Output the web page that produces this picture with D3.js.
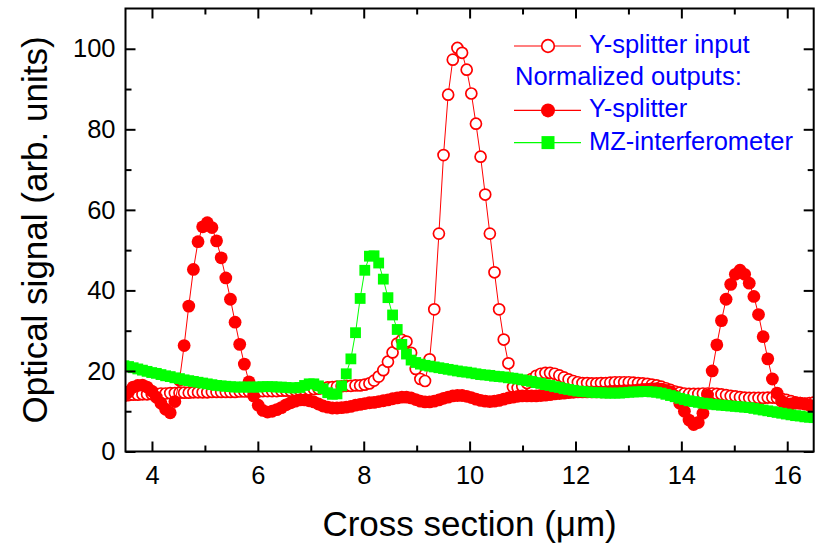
<!DOCTYPE html>
<html>
<head>
<meta charset="utf-8">
<script src="https://cdn.jsdelivr.net/npm/d3@7"></script>
<style>
body { margin: 0; background: #fff; }
text { font-family: "Liberation Sans", Arial, sans-serif; }
</style>
</head>
<body>
<div id="chart"></div>
<script>
// sampling grid of the cross section (um)
const xStart = 3.47;
const xStep = 0.0875;

// Y-splitter input (open circles)
const inputSignal = [
  14.0, 14.0, 14.1, 14.1, 14.2, 14.2, 14.3, 14.3, 14.4, 14.4,
  14.5, 14.5, 14.6, 14.6, 14.6, 14.7, 14.7, 14.7, 14.7, 14.8,
  14.8, 14.8, 14.8, 14.8, 14.8, 14.9, 14.9, 14.9, 14.9, 14.9,
  15.0, 15.0, 15.0, 15.0, 15.1, 15.1, 15.1, 15.2, 15.2, 15.3,
  15.4, 15.5, 15.6, 15.7, 15.9, 16.0, 16.1, 16.2, 16.3, 16.3,
  16.4, 16.4, 16.6, 16.9, 17.6, 18.6, 20.2, 22.3, 24.6, 26.8,
  27.7, 27.3, 24.5, 20.5, 18.0, 17.5, 22.9, 35.3, 54.1, 73.6,
  88.6, 97.3, 100.2, 99.0, 94.8, 88.9, 81.4, 73.2, 63.8, 54.1,
  44.5, 35.3, 27.8, 21.9, 16.0, 15.8, 16.2, 17.0, 18.0, 18.8,
  19.3, 19.5, 19.5, 19.3, 18.9, 18.4, 17.9, 17.5, 17.2, 17.0,
  17.0, 16.9, 16.9, 17.0, 17.0, 17.1, 17.2, 17.2, 17.2, 17.2,
  17.1, 17.0, 16.9, 16.8, 16.6, 16.4, 16.1, 15.7, 15.3, 14.9,
  14.6, 14.4, 14.3, 14.3, 14.3, 14.4, 14.4, 14.4, 14.3, 14.2,
  14.0, 13.8, 13.7, 13.5, 13.4, 13.3, 13.3, 13.3, 13.3, 13.4,
  13.4, 13.3, 13.1, 12.8, 12.5, 12.2, 12.0, 11.9, 12.0, 12.2
];

// normalized output of the Y-splitter (filled circles)
const ySplitterOut = [
  13.8, 14.8, 16.0, 16.4, 16.5, 16.0, 15.0, 13.5, 12.0, 10.5,
  9.6, 12.4, 17.7, 26.3, 36.1, 45.2, 52.1, 55.8, 56.8, 55.6,
  52.3, 48.1, 43.1, 37.8, 32.1, 26.6, 21.7, 17.3, 13.8, 11.5,
  10.2, 9.8, 10.0, 10.4, 10.9, 11.6, 12.1, 12.5, 12.8, 12.8,
  12.6, 12.3, 11.8, 11.3, 11.0, 10.8, 10.8, 10.9, 11.0, 11.2,
  11.5, 11.7, 11.9, 12.1, 12.2, 12.4, 12.6, 12.8, 13.1, 13.3,
  13.5, 13.5, 13.3, 12.9, 12.5, 12.3, 12.3, 12.5, 12.8, 13.2,
  13.5, 13.8, 13.9, 13.9, 13.7, 13.4, 13.0, 12.7, 12.5, 12.4,
  12.5, 12.7, 13.0, 13.3, 13.5, 13.7, 13.8, 13.8, 13.8, 13.8,
  13.9, 14.0, 14.1, 14.3, 14.4, 14.5, 14.6, 14.7, 14.8, 14.8,
  14.8, 14.8, 14.8, 14.8, 14.8, 14.9, 15.0, 15.0, 15.1, 15.1,
  15.2, 15.3, 15.4, 15.5, 15.6, 15.6, 15.5, 15.2, 14.8, 13.8,
  12.0, 10.0, 7.8, 6.7, 7.2, 9.5, 14.0, 20.0, 26.5, 32.5,
  37.8, 41.5, 44.0, 45.0, 44.0, 41.8, 38.5, 34.0, 28.5, 23.0,
  18.0, 14.5, 12.5, 11.8, 11.8, 12.0, 12.0, 11.8, 11.5, 11.3
];

// normalized output of the MZ-interferometer (squares)
const mzOut = [
  21.3, 21.1, 20.8, 20.5, 20.2, 19.9, 19.6, 19.4, 19.1, 18.8,
  18.6, 18.3, 18.1, 17.8, 17.6, 17.4, 17.2, 17.0, 16.8, 16.6,
  16.4, 16.3, 16.2, 16.1, 16.0, 16.0, 16.0, 16.0, 16.0, 16.0,
  16.1, 16.1, 16.1, 16.0, 16.0, 15.9, 15.8, 15.8, 15.9, 16.4,
  16.8, 16.8, 16.3, 15.6, 14.6, 14.2, 14.3, 16.3, 19.3, 23.0,
  29.5, 38.0, 45.0, 48.5, 48.6, 46.8, 42.8, 38.2, 33.9, 30.3,
  26.6, 24.2, 22.7, 22.1, 21.7, 21.4, 21.2, 21.0, 20.8, 20.6,
  20.4, 20.2, 20.0, 19.8, 19.7, 19.5, 19.3, 19.1, 19.0, 18.9,
  18.7, 18.6, 18.5, 18.3, 18.2, 18.0, 17.8, 17.6, 17.4, 17.1,
  16.9, 16.6, 16.4, 16.1, 15.9, 15.6, 15.4, 15.2, 15.0, 14.9,
  14.8, 14.7, 14.6, 14.6, 14.5, 14.5, 14.5, 14.5, 14.6, 14.7,
  14.8, 14.8, 14.9, 14.9, 14.8, 14.7, 14.5, 14.2, 13.9, 13.6,
  13.2, 12.9, 12.6, 12.4, 12.2, 12.0, 11.9, 11.7, 11.6, 11.5,
  11.4, 11.3, 11.2, 11.1, 11.0, 10.9, 10.7, 10.5, 10.3, 10.1,
  9.9, 9.7, 9.5, 9.3, 9.1, 8.9, 8.8, 8.6, 8.5, 8.4
];

const xTicksMajor = [4, 6, 8, 10, 12, 14, 16];
const xTicksMinor = [5, 7, 9, 11, 13, 15];
const yTicksMajor = [0, 20, 40, 60, 80, 100];
const yTicksMinor = [10, 30, 50, 70, 90];

const legendItems = [
  { label: "Y-splitter input", symbol: "open", color: "#ff0000" },
  { label: "Normalized outputs:", symbol: null, color: null },
  { label: "Y-splitter", symbol: "filled", color: "#ff0000" },
  { label: "MZ-interferometer", symbol: "square", color: "#00ff00" }
];

const width = 821;
const height = 545;
const margin = { top: 8.5, right: 7.3, bottom: 93.5, left: 125.5 };
const plotW = width - margin.left - margin.right;
const plotH = height - margin.top - margin.bottom;

const svg = d3.select("#chart").append("svg")
  .attr("width", width)
  .attr("height", height);

const x = d3.scaleLinear().domain([3.5, 16.5]).range([margin.left, margin.left + plotW]);
const y = d3.scaleLinear().domain([0, 110]).range([margin.top + plotH, margin.top]);

const toPoints = vals => vals.map((v, i) => ({ x: xStart + i * xStep, y: v }));

svg.append("defs").append("clipPath").attr("id", "plot-clip")
  .append("rect")
  .attr("x", margin.left).attr("y", margin.top)
  .attr("width", plotW).attr("height", plotH);

const plot = svg.append("g").attr("clip-path", "url(#plot-clip)");

const line = d3.line().x(d => x(d.x)).y(d => y(d.y));

// series in legend order, last one on top
const series = [
  { pts: toPoints(inputSignal), color: "#ff0000", symbol: "open" },
  { pts: toPoints(ySplitterOut), color: "#ff0000", symbol: "filled" },
  { pts: toPoints(mzOut), color: "#00ff00", symbol: "square" }
];

function drawSymbol(sel, symbol, color, size) {
  if (symbol === "open") {
    sel.append("circle").attr("r", size).attr("fill", "#fff")
      .attr("stroke", color).attr("stroke-width", 1.7);
  } else if (symbol === "filled") {
    sel.append("circle").attr("r", size).attr("fill", color);
  } else if (symbol === "square") {
    sel.append("rect").attr("x", -size).attr("y", -size)
      .attr("width", size * 2).attr("height", size * 2).attr("fill", color);
  }
}

series.forEach(s => {
  plot.append("path")
    .datum(s.pts)
    .attr("fill", "none")
    .attr("stroke", s.color)
    .attr("stroke-width", 1)
    .attr("d", line);
  const size = s.symbol === "open" ? 5.5 : (s.symbol === "filled" ? 6.4 : 5.4);
  plot.selectAll(null)
    .data(s.pts)
    .enter().append("g")
    .attr("transform", d => `translate(${x(d.x)},${y(d.y)})`)
    .each(function () { drawSymbol(d3.select(this), s.symbol, s.color, size); });
});

// axes, ticks pointing inward on all four sides
function styleAxis(g) {
  g.select(".domain").remove();
  g.selectAll(".tick line").attr("stroke", "#000").attr("stroke-width", 2);
  g.selectAll(".tick text").attr("fill", "#000").style("font-size", "25.5px");
}

const yBase = margin.top + plotH;
const xRight = margin.left + plotW;

svg.append("g").attr("transform", `translate(0,${yBase})`)
  .call(d3.axisBottom(x).tickValues(xTicksMajor).tickSize(-10).tickPadding(14.5).tickFormat(d3.format("d")))
  .call(styleAxis);
svg.append("g").attr("transform", `translate(0,${yBase})`)
  .call(d3.axisBottom(x).tickValues(xTicksMinor).tickSize(-6).tickFormat(""))
  .call(styleAxis);
svg.append("g").attr("transform", `translate(0,${margin.top})`)
  .call(d3.axisTop(x).tickValues(xTicksMajor).tickSize(-10).tickFormat(""))
  .call(styleAxis);
svg.append("g").attr("transform", `translate(0,${margin.top})`)
  .call(d3.axisTop(x).tickValues(xTicksMinor).tickSize(-6).tickFormat(""))
  .call(styleAxis);

svg.append("g").attr("transform", `translate(${margin.left},0)`)
  .call(d3.axisLeft(y).tickValues(yTicksMajor).tickSize(-10).tickPadding(10).tickFormat(d3.format("d")))
  .call(styleAxis);
svg.append("g").attr("transform", `translate(${margin.left},0)`)
  .call(d3.axisLeft(y).tickValues(yTicksMinor).tickSize(-6).tickFormat(""))
  .call(styleAxis);
svg.append("g").attr("transform", `translate(${xRight},0)`)
  .call(d3.axisRight(y).tickValues(yTicksMajor).tickSize(-10).tickFormat(""))
  .call(styleAxis);
svg.append("g").attr("transform", `translate(${xRight},0)`)
  .call(d3.axisRight(y).tickValues(yTicksMinor).tickSize(-6).tickFormat(""))
  .call(styleAxis);

// frame
svg.append("rect")
  .attr("x", margin.left).attr("y", margin.top)
  .attr("width", plotW).attr("height", plotH)
  .attr("fill", "none").attr("stroke", "#000").attr("stroke-width", 2);

// axis titles
svg.append("text")
  .attr("x", margin.left + plotW / 2)
  .attr("y", 536)
  .attr("text-anchor", "middle")
  .style("font-size", "35px")
  .text("Cross section (\u03bcm)");

svg.append("text")
  .attr("transform", `translate(47,${margin.top + plotH / 2}) rotate(-90)`)
  .attr("text-anchor", "middle")
  .style("font-size", "35px")
  .text("Optical signal (arb. units)");

// legend
const legend = svg.append("g");
const legX0 = 514, legX1 = 581, legTextX = 589, legY0 = 53, legRow = 32.2;
legendItems.forEach((item, k) => {
  const by = legY0 + k * legRow;
  if (item.symbol) {
    legend.append("line")
      .attr("x1", legX0).attr("x2", legX1)
      .attr("y1", by - 7).attr("y2", by - 7)
      .attr("stroke", item.color).attr("stroke-width", 1.2);
    const g = legend.append("g").attr("transform", `translate(${(legX0 + legX1) / 2 + 0.5},${by - 7})`);
    const size = item.symbol === "open" ? 6.3 : (item.symbol === "filled" ? 7 : 6.5);
    drawSymbol(g, item.symbol, item.color, size);
  }
  legend.append("text")
    .attr("x", item.symbol ? legTextX : legX0 + 1)
    .attr("y", by)
    .attr("fill", "#0000ff")
    .style("font-size", "25.5px")
    .text(item.label);
});
</script>
</body>
</html>
